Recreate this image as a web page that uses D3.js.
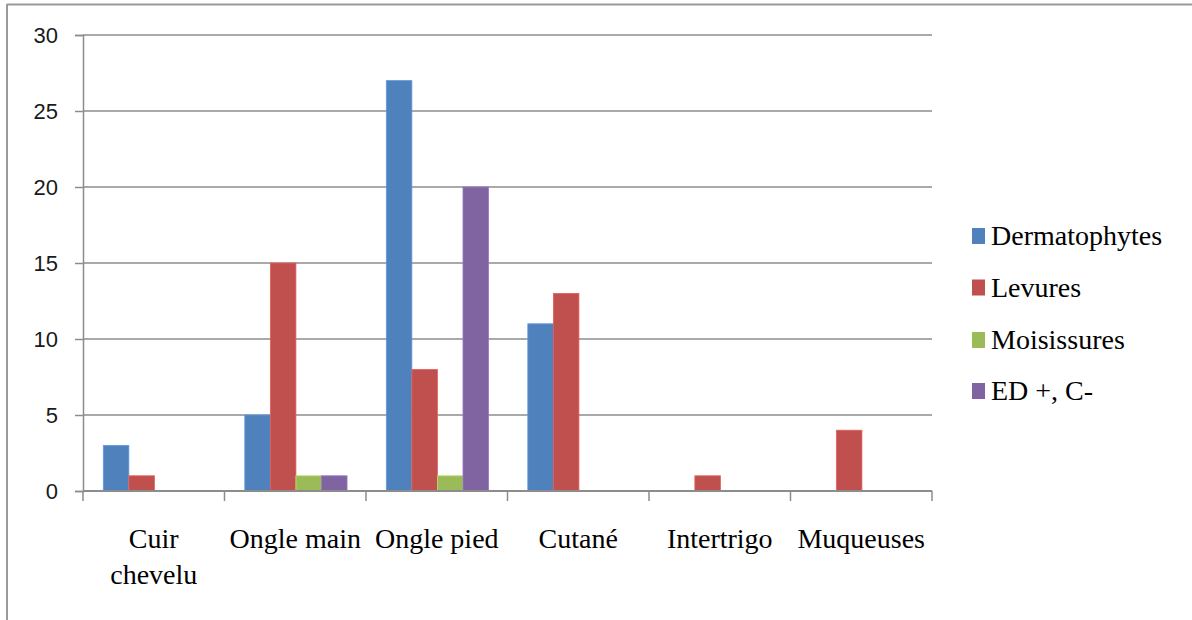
<!DOCTYPE html>
<html>
<head>
<meta charset="utf-8">
<script src="https://cdn.jsdelivr.net/npm/d3@7"></script>
<style>
  html, body { margin: 0; padding: 0; background: #fff; }
  svg { display: block; }
</style>
</head>
<body>
<svg id="chart" width="1192" height="620"></svg>
<script>
// Sample sites and the number of positive results per organism group
const categories = ["Cuir chevelu", "Ongle main", "Ongle pied", "Cutané", "Intertrigo", "Muqueuses"];
const seriesNames = ["Dermatophytes", "Levures", "Moisissures", "ED +, C-"];
const dermatophytes = [3, 5, 27, 11, 0, 0];
const levures       = [1, 15, 8, 13, 1, 4];
const moisissures   = [0, 1, 1, 0, 0, 0];
const edPlusCMinus  = [0, 1, 20, 0, 0, 0];
const yTicks = [0, 5, 10, 15, 20, 25, 30];
const colors = ["#4F81BD", "#C0504D", "#9BBB59", "#8064A2"];

const seriesValues = [dermatophytes, levures, moisissures, edPlusCMinus];

const svg = d3.select("#chart");
const plot = { left: 83, right: 932, top: 35, bottom: 491 };

// Outer frame (top and left edges)
svg.append("line").attr("x1", 7).attr("x2", 1192).attr("y1", 4.5).attr("y2", 4.5)
  .attr("stroke", "#9a9a9a").attr("stroke-width", 2);
svg.append("line").attr("x1", 7).attr("x2", 7).attr("y1", 4).attr("y2", 620)
  .attr("stroke", "#9a9a9a").attr("stroke-width", 2);

const x0 = d3.scaleBand().domain(categories).range([plot.left, plot.right]).padding(0);
const bw = x0.bandwidth();
const x1 = d3.scaleBand().domain(seriesNames).range([bw * 0.1435, bw * 0.866]).padding(0);
const y = d3.scaleLinear().domain([0, 30]).range([plot.bottom, plot.top]);

// Horizontal gridlines
svg.append("g").selectAll("line").data(yTicks.filter(d => d > 0)).join("line")
  .attr("x1", plot.left).attr("x2", plot.right)
  .attr("y1", d => y(d)).attr("y2", d => y(d))
  .attr("stroke", "#8c8c8c").attr("stroke-width", 1.5);

// Y axis
const yAxis = svg.append("g").attr("transform", `translate(${plot.left},0)`)
  .call(d3.axisLeft(y).tickValues(yTicks).tickSize(8).tickPadding(17));
yAxis.select(".domain").attr("stroke", "#8c8c8c").attr("stroke-width", 1.5);
yAxis.selectAll(".tick line").attr("stroke", "#8c8c8c").attr("stroke-width", 1.5);
yAxis.selectAll(".tick text")
  .attr("font-family", "'Liberation Sans', Arial, sans-serif")
  .attr("font-size", 22).attr("fill", "#1a1a1a");

// Bars
const groups = svg.append("g").selectAll("g").data(categories).join("g")
  .attr("transform", d => `translate(${x0(d)},0)`);
groups.selectAll("rect")
  .data((c, i) => seriesNames.map((s, j) => ({ s, j, v: seriesValues[j][i] })).filter(d => d.v > 0))
  .join("rect")
  .attr("x", d => x1(d.s))
  .attr("width", x1.bandwidth())
  .attr("y", d => y(d.v))
  .attr("height", d => y(0) - y(d.v))
  .attr("fill", d => colors[d.j])
  .attr("stroke", d => d3.color(colors[d.j]).brighter(0.5))
  .attr("stroke-width", 0.8);

// X axis with tick marks at category boundaries
const xg = svg.append("g");
xg.append("line").attr("x1", plot.left).attr("x2", plot.right)
  .attr("y1", plot.bottom).attr("y2", plot.bottom)
  .attr("stroke", "#8c8c8c").attr("stroke-width", 2);
const boundaries = categories.map(c => x0(c)).concat([plot.right]);
xg.selectAll("line.tk").data(boundaries).join("line").attr("class", "tk")
  .attr("x1", d => d).attr("x2", d => d)
  .attr("y1", plot.bottom).attr("y2", plot.bottom + 10)
  .attr("stroke", "#8c8c8c").attr("stroke-width", 1.5);

// Category labels
const labelLines = {
  "Cuir chevelu": ["Cuir", "chevelu"]
};
xg.selectAll("text").data(categories).join("text")
  .attr("x", d => x0(d) + bw / 2)
  .attr("y", 548)
  .attr("text-anchor", "middle")
  .attr("font-family", "'Liberation Serif', 'Times New Roman', serif")
  .attr("font-size", 28).attr("fill", "#000")
  .each(function (d) {
    const lines = labelLines[d] || [d];
    d3.select(this).selectAll("tspan").data(lines).join("tspan")
      .attr("x", x0(d) + bw / 2)
      .attr("dy", (l, i) => i === 0 ? 0 : 36)
      .text(l => l);
  });

// Legend
const legend = svg.append("g").attr("transform", "translate(972,0)");
const legendY = [245, 296.5, 349, 400];
seriesNames.forEach((s, i) => {
  legend.append("rect").attr("x", 0).attr("y", legendY[i] - 17).attr("width", 13).attr("height", 16)
    .attr("fill", colors[i]);
  legend.append("text").attr("x", 19).attr("y", legendY[i])
    .attr("font-family", "'Liberation Serif', 'Times New Roman', serif")
    .attr("font-size", 28).attr("fill", "#000").text(s);
});
</script>
</body>
</html>
